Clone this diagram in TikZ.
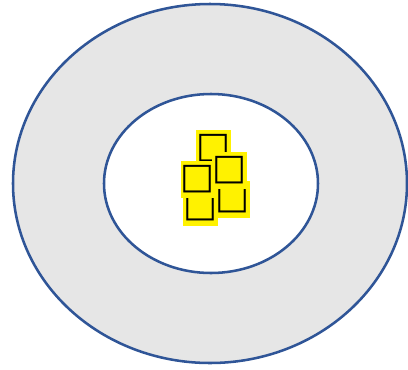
\documentclass[tikz,border=0pt]{standalone}
\usepackage{fontspec}
\newfontfamily\symfont{DejaVu Sans}
\definecolor{ringblue}{HTML}{2F5597}
\definecolor{ringgray}{HTML}{E6E6E6}
\tikzset{
    mark box/.style={fill=yellow, inner sep=0pt, minimum width=22pt, minimum height=27.5pt, font=\symfont\fontsize{27}{27}\selectfont}
}

\begin{document}
\begin{tikzpicture}[x=0.75pt, y=-0.75pt, line width=1.9pt]
    \useasboundingbox (0,0) rectangle (408,369);
    \draw[ringblue, fill=ringgray] (210,183.5) ellipse (197 and 179.5);
    \draw[ringblue, fill=white] (211,183.5) ellipse (107 and 89.5);

    \node[mark box] (d) at (200.5,207.5) {□};
    \node[mark box] (e) at (233,199.5) {□};
    \node[mark box] (a) at (213.5,148.5) {□};
    \node[mark box] (b) at (198,179.5) {□};
    \node[mark box] (c) at (229.5,170.5) {□};
\end{tikzpicture}
\end{document}
